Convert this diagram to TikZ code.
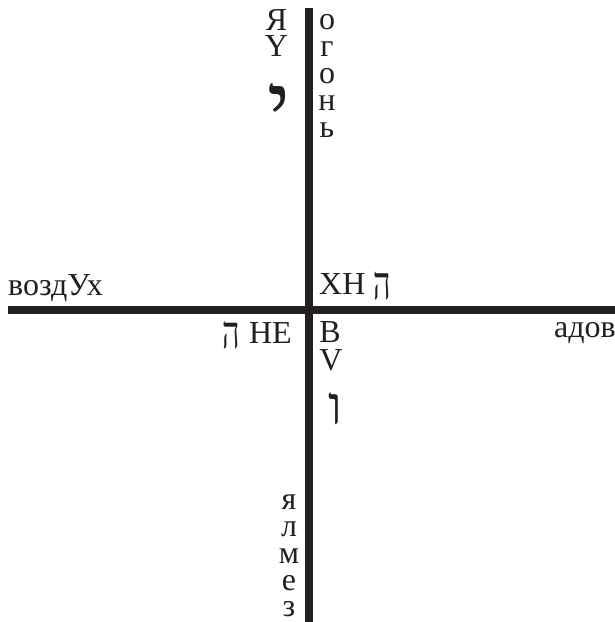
\documentclass[tikz,border=0pt]{standalone}
\usepackage{fontspec}
\usepackage{graphicx}
\setmainfont{Liberation Serif}
\newfontfamily\hebfont[Script=Hebrew]{Liberation Serif}
\XeTeXuseglyphmetrics=1
\definecolor{ink}{RGB}{35,31,32}
\begin{document}
\begin{tikzpicture}[x=1pt,y=-1pt,
  axis/.style={line width=7.6pt,ink},
  lbl/.style={inner sep=0pt,text=ink,font=\fontsize{32}{30}\selectfont},
  heb/.style={inner sep=0pt,anchor=north west,text=ink}]
\useasboundingbox (0,0) rectangle (615,622);
\coordinate (vtop) at (309,8);
\coordinate (vbot) at (309,622);
\coordinate (hleft) at (8,310);
\coordinate (hright) at (615,310);
\draw[axis] (vtop) -- (vbot);
\draw[axis] (hleft) -- (hright);
% top left
\node[lbl,anchor=base] (ya) at (276.5,30) {Я};
\node[lbl,anchor=base] (yy) at (276.5,56) {Y};
\node[heb] (yod) at (267,83) {\resizebox*{23pt}{53pt}{\hebfont י}};
% top right column
\node[lbl,anchor=base] (o1) at (327,29.5) {о};
\node[lbl,anchor=base] (g1) at (327,56.4) {г};
\node[lbl,anchor=base] (o2) at (327,83.3) {о};
\node[lbl,anchor=base] (n1) at (327,110.2) {н};
\node[lbl,anchor=base] (s1) at (327,137.1) {ь};
% horizontal labels
\node[lbl,anchor=base west] (air) at (8,295) {воздУх};
\node[lbl,anchor=base west] (xh) at (319,294) {ХН};
\node[heb] (he1) at (373,272) {\resizebox*{17.5pt}{28pt}{\hebfont ה}};
\node[lbl,anchor=base east] (he) at (292,343.3) {НЕ};
\node[heb] (he2) at (222,321) {\resizebox*{17.5pt}{27.5pt}{\hebfont ה}};
\node[lbl,anchor=base east] (adov) at (616,337) {адов};
% bottom right
\node[lbl,anchor=base] (bb) at (330,342.7) {В};
\node[lbl,anchor=base] (vv) at (331,370) {V};
\node[heb] (vav) at (328,393) {\resizebox*{14pt}{32pt}{\hebfont ו}};
% bottom left column
\node[lbl,anchor=base] (ya2) at (289,509) {я};
\node[lbl,anchor=base] (l1) at (289,536) {л};
\node[lbl,anchor=base] (m1) at (289,563) {м};
\node[lbl,anchor=base] (e1) at (289,590) {е};
\node[lbl,anchor=base] (z1) at (289,616) {з};
\end{tikzpicture}
\end{document}
